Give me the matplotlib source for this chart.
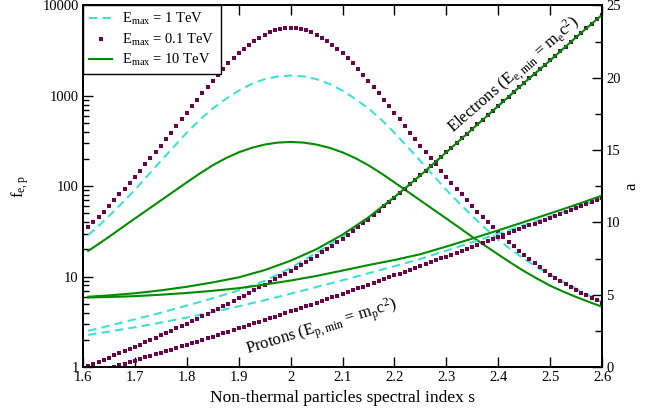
import matplotlib
matplotlib.use("Agg")
import matplotlib.pyplot as plt
import numpy as np
from matplotlib.lines import Line2D
from matplotlib.ticker import MultipleLocator, LogLocator, NullFormatter, NullLocator

plt.rcParams['font.family'] = 'Liberation Serif'
plt.rcParams['mathtext.fontset'] = 'custom'
plt.rcParams['mathtext.rm'] = 'Liberation Serif'
plt.rcParams['mathtext.it'] = 'Liberation Serif:italic'

# spectral index grids
s_fine = np.arange(161, 261) / 100.0          # 1.61 ... 2.60, step 0.01 (symbol series)
s_line = [1.61, 1.625, 1.65, 1.675, 1.70, 1.725, 1.75, 1.775, 1.80, 1.825, 1.85,
          1.875, 1.90, 1.925, 1.95, 1.975, 2.00, 2.025, 2.05, 2.075, 2.10, 2.125,
          2.15, 2.175, 2.20, 2.225, 2.25, 2.275, 2.30, 2.325, 2.35, 2.375, 2.40,
          2.425, 2.45, 2.475, 2.50, 2.525, 2.55, 2.575, 2.60]
s_coarse = [1.61, 1.65, 1.70, 1.75, 1.80, 1.85, 1.90, 1.95, 2.00, 2.05, 2.10,
            2.15, 2.20, 2.25, 2.30, 2.35, 2.40, 2.45, 2.50, 2.55, 2.60]

### f_{e,p} (left axis), stored as log10
logf_01tev = [1.548, 1.605, 1.663, 1.720, 1.778, 1.843, 1.909, 1.974, 2.040, 2.105,
              2.173, 2.242, 2.310, 2.379, 2.448, 2.521, 2.594, 2.668, 2.741, 2.815,
              2.886, 2.956, 3.027, 3.097, 3.167, 3.236, 3.300, 3.362, 3.420, 3.474,
              3.523, 3.568, 3.608, 3.644, 3.675, 3.704, 3.726, 3.742, 3.752, 3.755,
              3.752, 3.742, 3.726, 3.704, 3.675, 3.644, 3.608, 3.568, 3.523, 3.474,
              3.420, 3.362, 3.300, 3.236, 3.167, 3.097, 3.027, 2.956, 2.886, 2.815,
              2.741, 2.668, 2.594, 2.521, 2.448, 2.379, 2.310, 2.242, 2.173, 2.105,
              2.040, 1.974, 1.909, 1.843, 1.778, 1.720, 1.663, 1.605, 1.548, 1.490,
              1.439, 1.388, 1.337, 1.286, 1.235, 1.191, 1.147, 1.103, 1.059, 1.015,
              0.982, 0.949, 0.916, 0.883, 0.850, 0.822, 0.794, 0.766, 0.738, 0.710]
logf_1tev = [1.46, 1.535, 1.67, 1.812, 1.96, 2.12, 2.28, 2.437, 2.593, 2.735, 2.86,
             2.965, 3.058, 3.132, 3.185, 3.215, 3.225, 3.215, 3.185, 3.132, 3.058, 2.965,
             2.86, 2.735, 2.593, 2.437, 2.28, 2.12, 1.96, 1.812, 1.67, 1.535, 1.41,
             1.298, 1.196, 1.105, 1.022, 0.943, 0.868, 0.792, 0.719]
logf_10tev = [1.285, 1.342, 1.44, 1.542, 1.643, 1.743, 1.843, 1.943, 2.043, 2.141, 2.232,
              2.31, 2.375, 2.425, 2.461, 2.483, 2.49, 2.483, 2.461, 2.425, 2.375, 2.31,
              2.232, 2.141, 2.043, 1.943, 1.843, 1.743, 1.643, 1.542, 1.44, 1.342, 1.245,
              1.15, 1.06, 0.978, 0.90, 0.835, 0.775, 0.72, 0.667]

### a (right axis)
a_el_01tev = [0.07, 0.21, 0.36, 0.50, 0.65, 0.80, 0.95, 1.10, 1.25, 1.40,
              1.55, 1.71, 1.87, 2.02, 2.18, 2.34, 2.51, 2.67, 2.84, 3.00,
              3.17, 3.34, 3.51, 3.68, 3.85, 4.03, 4.21, 4.39, 4.57, 4.75,
              4.94, 5.13, 5.32, 5.51, 5.70, 5.89, 6.08, 6.27, 6.46, 6.65,
              6.86, 7.07, 7.28, 7.49, 7.70, 7.93, 8.16, 8.39, 8.62, 8.85,
              9.12, 9.39, 9.66, 9.93, 10.20, 10.50, 10.80, 11.10, 11.40, 11.70,
              12.01, 12.32, 12.63, 12.94, 13.25, 13.57, 13.89, 14.21, 14.53, 14.85,
              15.17, 15.49, 15.81, 16.13, 16.45, 16.77, 17.09, 17.41, 17.73, 18.05,
              18.37, 18.69, 19.01, 19.33, 19.65, 19.96, 20.27, 20.58, 20.89, 21.20,
              21.52, 21.84, 22.16, 22.48, 22.80, 23.11, 23.42, 23.73, 24.04, 24.35]
a_pr_01tev = [-0.50, -0.39, -0.29, -0.18, -0.08, 0.03, 0.13, 0.24, 0.34, 0.45,
              0.56, 0.67, 0.77, 0.88, 0.99, 1.10, 1.21, 1.32, 1.43, 1.54,
              1.65, 1.76, 1.88, 1.99, 2.10, 2.21, 2.33, 2.44, 2.56, 2.67,
              2.79, 2.90, 3.02, 3.13, 3.25, 3.37, 3.49, 3.60, 3.72, 3.84,
              3.96, 4.08, 4.20, 4.32, 4.44, 4.56, 4.69, 4.81, 4.94, 5.06,
              5.19, 5.31, 5.44, 5.56, 5.69, 5.82, 5.95, 6.07, 6.20, 6.33,
              6.46, 6.59, 6.72, 6.85, 6.98, 7.11, 7.24, 7.38, 7.51, 7.64,
              7.77, 7.91, 8.04, 8.18, 8.31, 8.45, 8.58, 8.72, 8.85, 8.99,
              9.12, 9.25, 9.39, 9.52, 9.65, 9.79, 9.92, 10.06, 10.19, 10.33,
              10.47, 10.61, 10.74, 10.88, 11.02, 11.16, 11.30, 11.43, 11.57, 11.71]
a_el_1tev = [2.5, 2.85, 3.3, 3.75, 4.25, 4.75, 5.3, 5.95, 6.85, 7.9, 9.0,
             10.25, 11.72, 13.25, 14.85, 16.45, 18.05, 19.65, 21.2, 22.8, 24.35]
a_pr_1tev = [2.22, 2.45, 2.75, 3.07, 3.42, 3.8, 4.2, 4.62, 5.07, 5.53, 6.0,
             6.48, 6.97, 7.47, 8.05, 8.63, 9.22, 9.81, 10.41, 11.02, 11.64]
a_el_10tev = [4.86, 4.95, 5.1, 5.3, 5.55, 5.85, 6.2, 6.7, 7.35, 8.15, 9.15,
              10.35, 11.75, 13.25, 14.85, 16.45, 18.05, 19.65, 21.2, 22.8, 24.35]
a_pr_10tev = [4.81, 4.84, 4.9, 5.0, 5.12, 5.27, 5.45, 5.7, 5.98, 6.3, 6.67,
              7.05, 7.4, 7.8, 8.33, 8.88, 9.45, 10.03, 10.62, 11.22, 11.85]

c_maroon = '#670748'
c_turq = '#40E0D0'
c_green = '#008B00'
dash = (4, 2.5)
ms = 2.8

fig = plt.figure(figsize=(6.63, 4.12), dpi=100)
ax = fig.add_axes([0.1252, 0.1092, 0.7828, 0.8775])
ax2 = ax.twinx()

# f curves
ax.plot(s_line, 10 ** np.array(logf_1tev), color=c_turq, lw=1.5, dashes=dash)
ax.plot(s_fine, 10 ** np.array(logf_01tev), color=c_maroon, marker='s', ms=ms,
        mew=0, ls='none')
ax.plot(s_line, 10 ** np.array(logf_10tev), color=c_green, lw=1.5)

# a curves
ax2.plot(s_coarse, a_el_1tev, color=c_turq, lw=1.5, dashes=dash)
ax2.plot(s_coarse, a_pr_1tev, color=c_turq, lw=1.5, dashes=dash)
ax2.plot(s_fine, a_el_01tev, color=c_maroon, marker='s', ms=ms, mew=0, ls='none')
ax2.plot(s_fine, a_pr_01tev, color=c_maroon, marker='s', ms=ms, mew=0, ls='none')
ax2.plot(s_coarse, a_el_10tev, color=c_green, lw=1.5)
ax2.plot(s_coarse, a_pr_10tev, color=c_green, lw=1.5)

ax2.text(2.43, 20.2, r'Electrons (E$_{\rm e,min}$ = m$_{\rm e}$c$^{2}$)', fontsize=12,
         rotation=41, ha='center', va='center', rotation_mode='anchor')
ax2.text(2.06, 2.7, r'Protons (E$_{\rm p,min}$ = m$_{\rm p}$c$^{2}$)', fontsize=12,
         rotation=17, ha='center', va='center', rotation_mode='anchor')

# axes
ax.set_xlim(1.6, 2.6)
ax.set_yscale('log')
ax.set_ylim(1, 10000)
ax.set_xticks([1.6, 1.7, 1.8, 1.9, 2.0, 2.1, 2.2, 2.3, 2.4, 2.5, 2.6])
ax.set_xticklabels(['1.6', '1.7', '1.8', '1.9', '2', '2.1', '2.2', '2.3', '2.4', '2.5', '2.6'])
ax.xaxis.set_minor_locator(NullLocator())
ax.set_yticks([1, 10, 100, 1000, 10000])
ax.set_yticklabels(['1', '10', '100', '1000', '10000'])
ax.yaxis.set_minor_locator(LogLocator(base=10, subs=np.arange(2, 10)))
ax.yaxis.set_minor_formatter(NullFormatter())
ax.tick_params(which='both', direction='in', top=True, right=False, labelsize=10.5, pad=3)
ax.tick_params(which='major', length=7, width=1)
ax.tick_params(which='minor', length=4, width=1)

ax2.set_ylim(0, 25)
ax2.yaxis.set_major_locator(MultipleLocator(5))
ax2.yaxis.set_minor_locator(MultipleLocator(2.5))
ax2.tick_params(which='both', direction='in', labelsize=10.5, pad=3)
ax2.tick_params(which='major', length=7, width=1)
ax2.tick_params(which='minor', length=5, width=1)

for a_ in (ax, ax2):
    for sp in a_.spines.values():
        sp.set_linewidth(1.3)

ax.set_xlabel('Non-thermal particles spectral index s', fontsize=12.5, labelpad=4)
ax.set_ylabel(r'f$_{\rm e,p}$', fontsize=12, labelpad=8)
ax2.set_ylabel('a', fontsize=12, labelpad=2)

handles = [Line2D([], [], color=c_turq, lw=1.5, dashes=dash),
           Line2D([], [], color=c_maroon, marker='s', ms=ms, mew=0, ls='none'),
           Line2D([], [], color=c_green, lw=1.5)]
labels = [r'E$_{\rm max}$ = 1 TeV', r'E$_{\rm max}$ = 0.1 TeV', r'E$_{\rm max}$ = 10 TeV']
leg = ax2.legend(handles, labels, loc='upper left', bbox_to_anchor=(0, 1),
                 borderaxespad=0, fancybox=False, edgecolor='black', framealpha=1,
                 fontsize=10.5, handlelength=1.6, handletextpad=0.7, borderpad=0.4,
                 labelspacing=0.3)
leg.get_frame().set_linewidth(1.0)

fig.savefig('out.png', dpi=100)
